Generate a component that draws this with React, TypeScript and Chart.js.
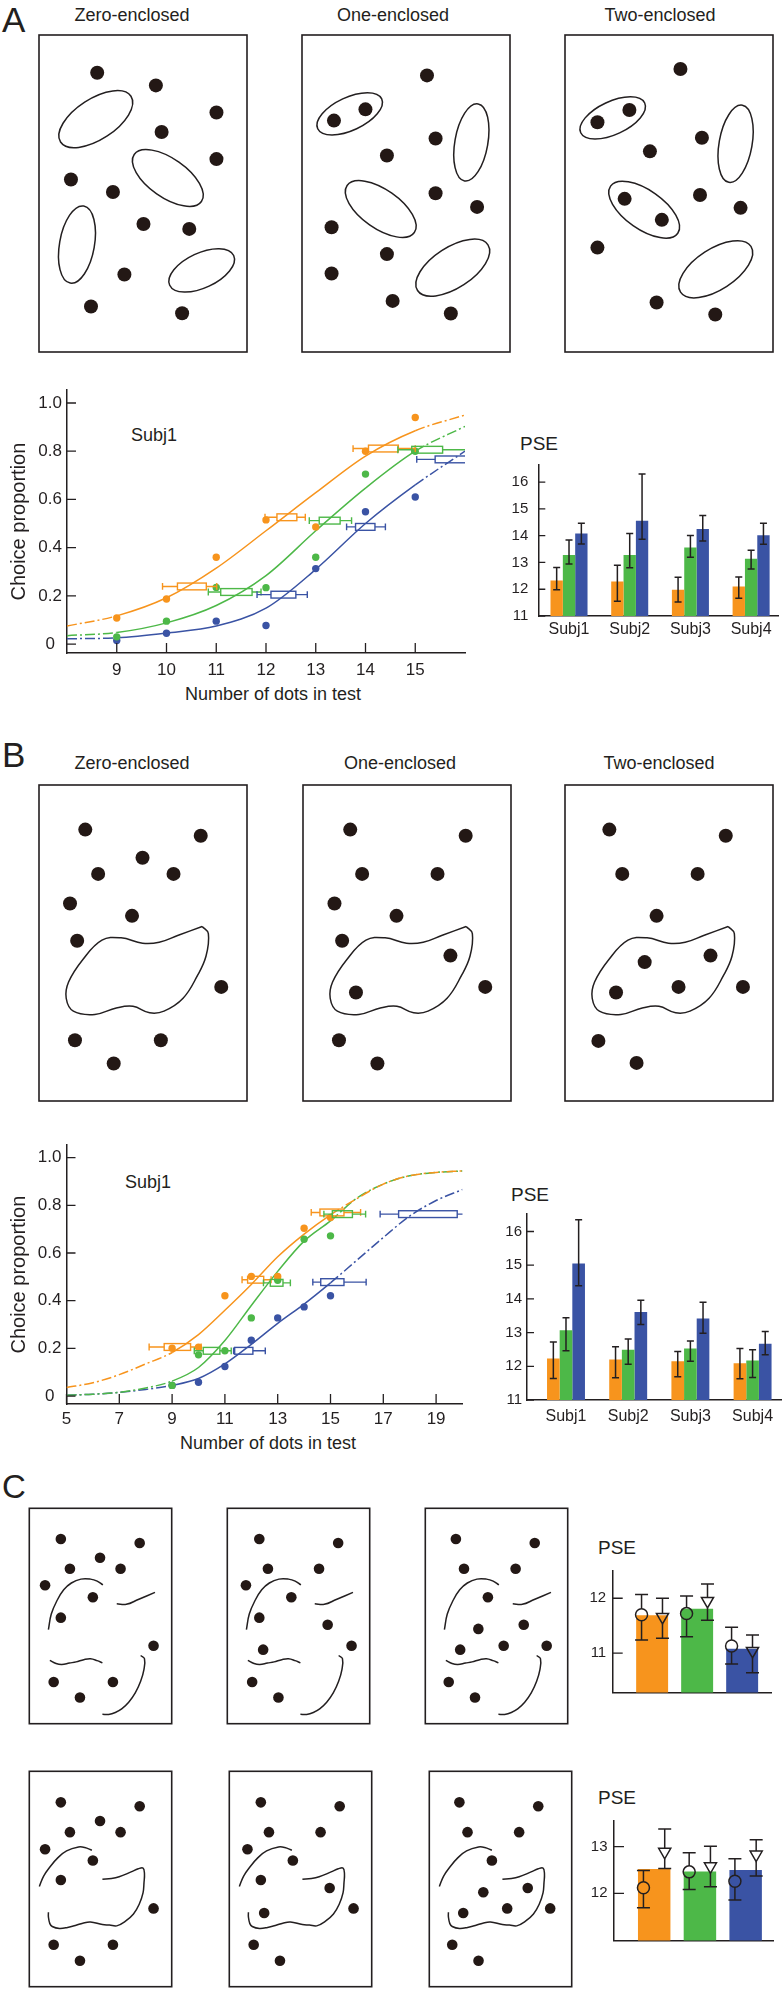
import React, { useEffect, useRef } from 'react';
import { Chart, registerables } from 'chart.js';

Chart.register(...registerables);

const FONT = "'Liberation Sans', Arial, Helvetica, sans-serif";
Chart.defaults.font.family = FONT;
Chart.defaults.color = '#231F20';

const INK = '#231F20';
const DOT = '#231815';
const ORANGE = '#F7941D';
const GREEN = '#4DB848';
const BLUE = '#3A53A4';
const DASHDOT = [10, 3, 2, 3];

// ---------------- Panel A : psychometric data ----------------
const A_X_TICKS = [9, 10, 11, 12, 13, 14, 15];
const PROP_TICKS = [0, 0.2, 0.4, 0.6, 0.8, 1.0];
const A_LEVELS = [9, 10, 11, 12, 13, 14, 15];
const A_ZERO_PTS = [0.108, 0.187, 0.36, 0.515, 0.486, 0.8, 0.94];
const A_ONE_PTS = [0.03, 0.095, 0.235, 0.234, 0.36, 0.705, 0.8];
const A_TWO_PTS = [0.015, 0.045, 0.095, 0.077, 0.313, 0.549, 0.61];
const A_CURVE_X = [8, 9, 10, 11, 12, 13, 14, 15, 16];
const A_ZERO_FIT = [0.075, 0.117, 0.192, 0.315, 0.47, 0.628, 0.78, 0.885, 0.95];
const A_ONE_FIT = [0.035, 0.048, 0.088, 0.16, 0.284, 0.47, 0.647, 0.8, 0.903];
const A_TWO_FIT = [0.022, 0.026, 0.046, 0.075, 0.149, 0.31, 0.5, 0.66, 0.8];
// [y, whiskerLow, whiskerHigh, boxLow, boxHigh]
const A_ZERO_BOX = [[0.239, 9.92, 11.01, 10.22, 10.8], [0.526, 11.98, 12.79, 12.22, 12.62], [0.811, 13.75, 15.0, 14.06, 14.66]];
const A_ONE_BOX = [[0.216, 10.84, 11.9, 11.09, 11.72], [0.512, 12.87, 13.72, 13.07, 13.49], [0.806, 14.65, 16.1, 14.93, 15.55]];
const A_TWO_BOX = [[0.205, 11.82, 12.83, 12.1, 12.6], [0.486, 13.62, 14.4, 13.8, 14.19], [0.766, 15.03, 16.8, 15.4, 16.4]];

// ---------------- Panel B : psychometric data ----------------
const B_X_TICKS = [5, 7, 9, 11, 13, 15, 17, 19];
const B_LEVELS = [9, 10, 11, 12, 13, 14, 15];
const B_ZERO_PTS = [0.201, 0.205, 0.421, 0.502, 0.502, 0.704, 0.749];
const B_ONE_PTS = [0.045, 0.173, 0.19, 0.328, 0.486, 0.658, 0.672];
const B_TWO_PTS = [0.045, 0.058, 0.124, 0.234, 0.328, 0.374, 0.421];
const B_CURVE_X = [5, 6, 7, 8, 9, 10, 11, 12, 13, 14, 15, 16, 17, 18, 19, 20];
const B_ZERO_FIT = [0.036, 0.056, 0.09, 0.135, 0.183, 0.258, 0.36, 0.468, 0.584, 0.679, 0.76, 0.828, 0.889, 0.924, 0.938, 0.944];
const B_ONE_FIT = [0.004, 0.008, 0.016, 0.034, 0.063, 0.12, 0.233, 0.38, 0.523, 0.65, 0.735, 0.83, 0.889, 0.924, 0.938, 0.944];
const B_TWO_FIT = [0.004, 0.008, 0.016, 0.028, 0.045, 0.074, 0.135, 0.217, 0.305, 0.386, 0.475, 0.57, 0.665, 0.755, 0.82, 0.866];
const B_ZERO_BOX = [[0.206, 8.13, 10.1, 8.7, 9.7], [0.488, 11.65, 12.75, 11.86, 12.47], [0.77, 14.27, 16.14, 14.6, 15.51]];
const B_ONE_BOX = [[0.19, 9.84, 11.24, 10.18, 10.81], [0.475, 12.46, 13.48, 12.72, 13.2], [0.763, 14.75, 16.33, 15.07, 15.83]];
const B_TWO_BOX = [[0.19, 11.33, 12.53, 11.37, 12.06], [0.478, 14.33, 16.35, 14.63, 15.51], [0.763, 16.88, 20.05, 17.58, 19.8]];

// ---------------- PSE bars ----------------
const SUBJECTS = ['Subj1', 'Subj2', 'Subj3', 'Subj4'];
const SUBJ_POS = [1, 2, 3, 4];
const PSE_TICKS = [11, 12, 13, 14, 15, 16];

const A_PSE_ZERO = [12.33, 12.29, 11.98, 12.1];
const A_PSE_ZERO_LO = [11.98, 11.55, 11.52, 11.66];
const A_PSE_ZERO_HI = [12.81, 12.9, 12.45, 12.46];
const A_PSE_ONE = [13.28, 13.28, 13.56, 13.14];
const A_PSE_ONE_LO = [12.94, 12.8, 13.19, 12.76];
const A_PSE_ONE_HI = [13.84, 14.08, 14.01, 13.46];
const A_PSE_TWO = [14.08, 14.56, 14.25, 14.02];
const A_PSE_TWO_LO = [13.69, 13.87, 13.8, 13.68];
const A_PSE_TWO_HI = [14.46, 16.3, 14.75, 14.46];

const B_PSE_ZERO = [12.23, 12.2, 12.15, 12.09];
const B_PSE_ZERO_LO = [11.64, 11.66, 11.69, 11.63];
const B_PSE_ZERO_HI = [12.72, 12.58, 12.44, 12.53];
const B_PSE_ONE = [13.07, 12.49, 12.53, 12.17];
const B_PSE_ONE_LO = [12.46, 12.06, 12.15, 11.67];
const B_PSE_ONE_HI = [13.44, 12.81, 12.75, 12.49];
const B_PSE_TWO = [15.05, 13.61, 13.42, 12.67];
const B_PSE_TWO_LO = [14.39, 13.24, 12.98, 12.34];
const B_PSE_TWO_HI = [16.35, 13.96, 13.9, 13.03];

const C_POS = [1, 2, 3];
const C_COLORS = [ORANGE, GREEN, BLUE];
const C1_TICKS = [11, 12];
const C1_BARS = [11.69, 11.81, 11.08];
const C1_CIRCLE = [11.7, 11.72, 11.13];
const C1_CIRCLE_LO = [11.24, 11.3, 10.8];
const C1_CIRCLE_HI = [12.07, 12.04, 11.47];
const C1_TRI = [11.66, 11.95, 11.04];
const C1_TRI_LO = [11.27, 11.6, 10.64];
const C1_TRI_HI = [12.0, 12.26, 11.33];
const C2_TICKS = [12, 13];
const C2_BARS = [12.52, 12.47, 12.5];
const C2_CIRCLE = [12.12, 12.46, 12.26];
const C2_CIRCLE_LO = [11.69, 12.08, 11.86];
const C2_CIRCLE_HI = [12.49, 12.87, 12.74];
const C2_TRI = [12.89, 12.58, 12.83];
const C2_TRI_LO = [12.53, 12.14, 12.37];
const C2_TRI_HI = [13.38, 13.01, 13.15];

// ---------------- Stimuli (dot / contour positions inside each frame) ----------------
const A_ZERO_DOTS = [[61, 39], [122.5, 52], [186, 80], [128.5, 100], [186, 128], [33.5, 149], [77.5, 162], [109.5, 195], [157.5, 200], [89.5, 247], [54.5, 280], [150, 287]];
const A_ONE_DOTS = [[131, 41.7], [66.5, 76.7], [33.5, 88.3], [140, 106.7], [89, 124.3], [140, 163.3], [183.5, 177.3], [31, 198.3], [89, 226], [31, 246], [95, 274.3], [156, 287.3]];
const A_TWO_DOTS = [[121, 35], [67.5, 77.3], [34, 90], [143.5, 106], [89, 120], [62.5, 169], [141.5, 165], [184, 178.3], [101.5, 190.7], [34, 219.3], [96, 276], [157.5, 288.3]];
// [cx, cy, semi-major, semi-minor, angle]
const A_ZERO_ELL = [[59.5, 86.8, 44, 21, -33], [135, 147.5, 43, 20, 35], [39.8, 216.2, 41, 18, -80], [170.5, 242.8, 37, 18, -25]];
const A_ONE_ELL = [[50, 81.3, 37, 17, -25], [177.5, 110.8, 41, 17, -80], [82.5, 179.5, 43, 20, 35], [158, 240, 44, 21, -33]];
const A_TWO_ELL = [[50, 85.5, 37, 17, -25], [178.8, 112.2, 41, 17, -80], [83, 180.2, 43, 20, 35], [158, 241.7, 44, 21, -33]];

const B_ZERO_DOTS = [[48.5, 46], [169.5, 52.3], [108.5, 75], [62, 91.7], [141, 91.7], [32.5, 122.3], [97.5, 135], [40, 160.7], [191, 208.3], [37.7, 263.3], [78.3, 287.3], [127.7, 263.3]];
const B_ONE_DOTS = [[49.5, 46], [170.5, 52.3], [62, 91.7], [141, 91.7], [33, 122.3], [98, 135], [41, 160.7], [154.5, 176], [55.5, 214], [191, 208.3], [37.7, 263.3], [78, 287.3]];
const B_TWO_DOTS = [[46.5, 46], [168.5, 52.3], [60, 91.7], [139, 91.7], [96, 135], [152.5, 176], [83.5, 182.7], [53.5, 214], [119, 208.3], [186.5, 208.3], [35, 264], [75, 286.7]];
const B_BLOB = [[171, 146], [146, 155], [126, 162.3], [108.5, 163.3], [86, 157.7], [66, 160], [46, 180], [31, 203.3], [28.5, 220], [36, 233.3], [58.5, 236.7], [81, 230], [98.5, 228.3], [116, 235], [131, 233.3], [151, 220], [166, 196.7], [175, 176.7], [177.5, 153.3], [171, 146]];

const C1_ZERO_DOTS = [[33, 31.7], [115.5, 35.7], [74, 51], [42.5, 62.3], [95.5, 62.3], [16.5, 79.3], [66.5, 91.7], [33, 112.7], [130, 141.7], [25.5, 179], [87.5, 179], [53, 195]];
const C1_ONE_DOTS = [[33.5, 31.7], [116, 35.7], [42.5, 62.3], [96, 62.3], [19.5, 79.3], [67, 91.7], [33.5, 112.7], [105, 120], [37.5, 145.7], [130, 141.7], [26, 179], [53.5, 195]];
const C1_TWO_DOTS = [[32, 31.7], [114.5, 35.7], [40.5, 62.3], [94.5, 62.3], [65.5, 91.7], [55.5, 124.3], [103, 120], [36.5, 145.7], [82, 141.7], [127, 141.7], [24.5, 179], [52, 195]];
const C1_ARC = [[20, 125], [23, 109], [29, 95], [36, 84], [44, 77], [54, 73], [64, 73], [71, 75], [77, 79]];
const C1_WAVE_R = [[91.5, 98.3], [101.5, 99], [114, 94], [131.5, 86.7]];
const C1_WAVE_L = [[21.5, 156.7], [28, 160], [34, 161], [42, 159.5], [49, 158.3], [57, 156], [64, 155], [71, 157], [76.5, 159.3]];
const C1_HOOK = [[116.5, 151.7], [120.5, 155], [120, 166], [116.5, 178.3], [111, 190], [104, 200], [97, 206.5], [90, 210.5], [83, 212.5], [76.5, 212.3]];

const C2_ZERO_DOTS = [[33, 32], [115.5, 36], [74, 51.3], [42.5, 62.7], [95.5, 62.7], [16.5, 80.3], [66.5, 92], [33, 112], [130, 141.3], [25.5, 178.7], [87.5, 178.7], [53, 195.3]];
const C2_ONE_DOTS = [[33, 32], [115.5, 36], [41.5, 62.7], [95.5, 62.7], [19, 80.3], [66.5, 92], [33, 112], [105, 120.3], [36.5, 146], [130, 141.3], [25.5, 178.7], [53, 195.3]];
const C2_TWO_DOTS = [[31.5, 32], [114, 36], [40, 62.7], [94, 62.7], [65.5, 92], [56.5, 124.7], [103, 120.3], [35.5, 146], [81.5, 141.3], [126.5, 141.3], [24, 178.7], [51.5, 195.3]];
const C2_ARC = [[10.5, 118.7], [15, 108], [21.5, 98.7], [30, 89], [39, 82], [51.5, 78], [58, 78.5], [65.5, 81.3]];
const C2_HOOK = [[76.5, 111.3], [86, 110.5], [94, 108.7], [106.5, 103.7], [114, 100.5], [119, 99.7], [120.5, 105.3], [120, 115], [119, 125.3], [115, 137], [109, 147], [100, 155], [91.5, 159.3], [84, 158.5], [76.5, 158], [64, 155.3], [56, 156.5], [49, 158.7], [40, 161], [31.5, 162], [24, 160], [21.5, 157], [20, 150], [20, 145.3]];

// ---------------- helpers ----------------
const baseOptions = (padding: any) => ({
  responsive: false,
  maintainAspectRatio: false,
  animation: false,
  devicePixelRatio: 1,
  events: [],
  layout: { padding },
  plugins: { legend: { display: false }, tooltip: { enabled: false }, title: { display: false } },
});

const toXY = (pts: number[][]) => pts.map(([x, y]) => ({ x, y }));

function stimulusPlugin(ellipses: number[][]) {
  return {
    id: 'stimulus',
    beforeDatasetsDraw(chart: any) {
      const { ctx, chartArea: ca } = chart;
      const xs = chart.scales.x;
      const ys = chart.scales.y;
      ctx.save();
      ctx.strokeStyle = INK;
      ctx.lineWidth = 1.6;
      ctx.strokeRect(ca.left, ca.top, ca.right - ca.left, ca.bottom - ca.top);
      ctx.lineWidth = 1.5;
      for (const [cx, cy, a, b, ang] of ellipses) {
        const px = xs.getPixelForValue(cx);
        const py = ys.getPixelForValue(cy);
        const ra = Math.abs(xs.getPixelForValue(cx + a) - px);
        const rb = Math.abs(ys.getPixelForValue(cy + b) - py);
        ctx.beginPath();
        ctx.ellipse(px, py, ra, rb, (ang * Math.PI) / 180, 0, Math.PI * 2);
        ctx.stroke();
      }
      ctx.restore();
    },
  };
}

function inTicks(xLen: number, yLen: number) {
  return {
    id: 'inTicks',
    afterDraw(chart: any) {
      const { ctx } = chart;
      const xs = chart.scales.x;
      const ys = chart.scales.y;
      ctx.save();
      ctx.strokeStyle = INK;
      ctx.lineWidth = 1.3;
      ctx.beginPath();
      if (xLen) xs.ticks.forEach((t: any) => {
        const px = xs.getPixelForValue(t.value);
        ctx.moveTo(px, xs.top);
        ctx.lineTo(px, xs.top - xLen);
      });
      if (yLen) ys.ticks.forEach((t: any) => {
        const py = ys.getPixelForValue(t.value);
        ctx.moveTo(ys.right, py);
        ctx.lineTo(ys.right + yLen, py);
      });
      ctx.stroke();
      ctx.restore();
    },
  };
}

function boxMarks(sets: { color: string; rows: number[][] }[]) {
  return {
    id: 'boxMarks',
    afterDatasetsDraw(chart: any) {
      const { ctx, chartArea: ca } = chart;
      const xs = chart.scales.x;
      const ys = chart.scales.y;
      ctx.save();
      ctx.beginPath();
      ctx.rect(ca.left, ca.top - 30, ca.right - ca.left, ca.bottom - ca.top + 60);
      ctx.clip();
      ctx.lineWidth = 1.4;
      const h = 3.4;
      for (const s of sets) {
        ctx.strokeStyle = s.color;
        for (const [v, wl, wh, bl, bh] of s.rows) {
          const py = ys.getPixelForValue(v);
          const xwl = xs.getPixelForValue(wl);
          const xwh = xs.getPixelForValue(wh);
          const xbl = xs.getPixelForValue(bl);
          const xbh = xs.getPixelForValue(bh);
          ctx.beginPath();
          ctx.moveTo(xwl, py); ctx.lineTo(xbl, py);
          ctx.moveTo(xbh, py); ctx.lineTo(xwh, py);
          ctx.moveTo(xwl, py - h); ctx.lineTo(xwl, py + h);
          ctx.moveTo(xwh, py - h); ctx.lineTo(xwh, py + h);
          ctx.stroke();
          ctx.strokeRect(xbl, py - h, xbh - xbl, 2 * h);
        }
      }
      ctx.restore();
    },
  };
}

function errorBars(specs: { ds: number; lo: number[]; hi: number[]; gapUp?: number; gapDown?: number }[], cap: number) {
  return {
    id: 'errorBars',
    afterDatasetsDraw(chart: any) {
      const { ctx } = chart;
      const ys = chart.scales.y;
      ctx.save();
      ctx.strokeStyle = INK;
      ctx.lineWidth = 1.5;
      for (const s of specs) {
        const meta = chart.getDatasetMeta(s.ds);
        meta.data.forEach((el: any, i: number) => {
          const x = el.x;
          const yHi = ys.getPixelForValue(s.hi[i]);
          const yLo = ys.getPixelForValue(s.lo[i]);
          ctx.beginPath();
          ctx.moveTo(x, yHi); ctx.lineTo(x, el.y - (s.gapUp || 0));
          ctx.moveTo(x, el.y + (s.gapDown || 0)); ctx.lineTo(x, yLo);
          ctx.moveTo(x - cap, yHi); ctx.lineTo(x + cap, yHi);
          ctx.moveTo(x - cap, yLo); ctx.lineTo(x + cap, yLo);
          ctx.stroke();
        });
      }
      ctx.restore();
    },
  };
}

function stimulus(key: string, left: number, top: number, w: number, h: number, dots: number[][], ellipses: number[][], curves: number[][][], r: number) {
  return {
    key, left: left - 2, top: top - 2, width: w + 4, height: h + 4,
    make: () => ({
      type: 'scatter',
      data: {
        datasets: [
          ...curves.map((c) => ({ data: toXY(c), showLine: true, pointRadius: 0, borderColor: INK, borderWidth: 1.5, tension: 0.4, fill: false, clip: false })),
          { data: toXY(dots), showLine: false, pointRadius: r, backgroundColor: DOT, borderWidth: 0, clip: false },
        ],
      },
      options: {
        ...baseOptions(2),
        scales: {
          x: { type: 'linear', min: 0, max: w, display: false },
          y: { type: 'linear', min: 0, max: h, reverse: true, display: false },
        },
      },
      plugins: [stimulusPlugin(ellipses)],
    }),
  };
}

function psych(key: string, g: any, d: any) {
  return {
    key, left: g.left, top: g.top, width: g.width, height: g.height,
    make: () => {
      const datasets: any[] = [];
      d.series.forEach((s: any) => {
        datasets.push({
          data: d.curveX.map((x: number, i: number) => ({ x, y: s.fit[i] })),
          showLine: true, pointRadius: 0, borderColor: s.color, borderWidth: 1.5, fill: false, order: 2,
          cubicInterpolationMode: 'monotone',
          segment: {
            borderDash: (ctx: any) => (ctx.p1.parsed.x <= d.solid[0] + 1e-9 || ctx.p0.parsed.x >= d.solid[1] - 1e-9 ? DASHDOT : undefined),
          },
        });
      });
      d.series.forEach((s: any) => {
        datasets.push({ data: d.levels.map((x: number, i: number) => ({ x, y: s.pts[i] })), showLine: false, pointRadius: 3.7, backgroundColor: s.color, borderWidth: 0, order: 1 });
      });
      return {
        type: 'scatter',
        data: { datasets },
        options: {
          ...baseOptions(g.padding),
          scales: {
            x: {
              type: 'linear', min: d.xMin, max: d.xMax,
              grid: { display: false, drawTicks: false },
              border: { display: true, color: INK, width: 1.5 },
              afterBuildTicks: (s: any) => { s.ticks = d.xTicks.map((value: number) => ({ value })); },
              afterFit: (s: any) => { s.height = g.xHeight; },
              ticks: { padding: g.xLabelPad, font: { size: 17 }, color: INK, autoSkip: false, maxRotation: 0, callback: (v: any) => String(v) },
            },
            y: {
              type: 'linear', min: d.yMin, max: d.yMax,
              grid: { display: false, drawTicks: false },
              border: { display: true, color: INK, width: 1.5 },
              afterBuildTicks: (s: any) => { s.ticks = PROP_TICKS.map((value) => ({ value })); },
              afterFit: (s: any) => { s.width = g.yWidth; },
              ticks: { padding: 5, crossAlign: 'center', font: { size: 17 }, color: INK, callback: (v: any) => (v === 0 ? '0' : Number(v).toFixed(1)) },
              title: { display: true, text: 'Choice proportion', font: { size: 20 }, color: INK, padding: { top: 7, bottom: 0 } },
            },
          },
        },
        plugins: [inTicks(10, 9), boxMarks(d.series.map((s: any) => ({ color: s.color, rows: s.boxes })))],
      };
    },
  };
}

function pse(key: string, g: any, d: any) {
  return {
    key, left: g.left, top: g.top, width: g.width, height: g.height,
    make: () => ({
      type: 'bar',
      data: {
        datasets: d.series.map((s: any) => ({
          data: SUBJ_POS.map((x, i) => ({ x, y: s.vals[i] })),
          backgroundColor: s.color, borderWidth: 0, barPercentage: 1, categoryPercentage: g.catPct,
        })),
      },
      options: {
        ...baseOptions(g.padding),
        scales: {
          x: {
            type: 'linear', min: g.xMin, max: g.xMax, offset: false,
            grid: { display: false, drawTicks: false },
            border: { display: true, color: INK, width: 1.5 },
            afterBuildTicks: (s: any) => { s.ticks = SUBJ_POS.map((value) => ({ value })); },
            afterFit: (s: any) => { s.height = g.xHeight; },
            ticks: { padding: g.xLabelPad, font: { size: 16 }, color: INK, autoSkip: false, maxRotation: 0, callback: (v: any) => SUBJECTS[SUBJ_POS.indexOf(v)] ?? '' },
          },
          y: {
            type: 'linear', min: g.yMin, max: g.yMax, beginAtZero: false,
            grid: { display: false, drawTicks: false },
            border: { display: true, color: INK, width: 1.5 },
            afterBuildTicks: (s: any) => { s.ticks = PSE_TICKS.map((value) => ({ value })); },
            afterFit: (s: any) => { s.width = g.yWidth; },
            ticks: { padding: g.yLabelPad, font: { size: 15 }, color: INK },
          },
        },
      },
      plugins: [inTicks(0, 7), errorBars(d.series.map((s: any, k: number) => ({ ds: k, lo: s.lo, hi: s.hi })), 3.5)],
    }),
  };
}

const CIRCLE_SHIFT = -0.235;
const TRI_SHIFT = 0.23;

function pseC(key: string, g: any, d: any) {
  return {
    key, left: g.left, top: g.top, width: g.width, height: g.height,
    make: () => ({
      type: 'bar',
      data: {
        datasets: [
          { type: 'bar', order: 3, data: C_POS.map((x, i) => ({ x, y: d.bars[i] })), backgroundColor: C_COLORS, borderWidth: 0, barPercentage: 0.71, categoryPercentage: 1 },
          { type: 'scatter', order: 1, data: C_POS.map((x, i) => ({ x: x + CIRCLE_SHIFT, y: d.circle[i] })), pointStyle: 'circle', pointRadius: 6, backgroundColor: 'rgba(255,255,255,0)', borderColor: INK, borderWidth: 1.5 },
          { type: 'scatter', order: 1, data: C_POS.map((x, i) => ({ x: x + TRI_SHIFT, y: d.tri[i] })), pointStyle: 'triangle', rotation: 180, pointRadius: 7, backgroundColor: 'rgba(255,255,255,0)', borderColor: INK, borderWidth: 1.5 },
        ],
      },
      options: {
        ...baseOptions(g.padding),
        scales: {
          x: {
            type: 'linear', min: g.xMin, max: g.xMax, offset: false,
            grid: { display: false, drawTicks: false },
            border: { display: true, color: INK, width: 1.5 },
            afterBuildTicks: (s: any) => { s.ticks = C_POS.map((value) => ({ value })); },
            afterFit: (s: any) => { s.height = 4; },
            ticks: { display: false },
          },
          y: {
            type: 'linear', min: g.yMin, max: g.yMax, beginAtZero: false,
            grid: { display: false, drawTicks: false },
            border: { display: true, color: INK, width: 1.5 },
            afterBuildTicks: (s: any) => { s.ticks = d.ticks.map((value: number) => ({ value })); },
            afterFit: (s: any) => { s.width = g.yWidth; },
            ticks: { padding: 6.5, font: { size: 15 }, color: INK },
          },
        },
      },
      plugins: [
        inTicks(0, 10),
        errorBars([
          { ds: 1, lo: d.circleLo, hi: d.circleHi, gapUp: 6, gapDown: 6 },
          { ds: 2, lo: d.triLo, hi: d.triHi, gapUp: 3.5, gapDown: 7 },
        ], 6.5),
      ],
    }),
  };
}

// ---------------- layout ----------------
const CHARTS = [
  stimulus('a1', 34, 30, 218, 327, A_ZERO_DOTS, A_ZERO_ELL, [], 7),
  stimulus('a2', 297, 30, 218, 327, A_ONE_DOTS, A_ONE_ELL, [], 7),
  stimulus('a3', 560, 30, 218, 327, A_TWO_DOTS, A_TWO_ELL, [], 7),
  psych('apsy', { left: 0, top: 375, width: 477, height: 330, padding: { top: 8, right: 12, left: 0, bottom: 0 }, yWidth: 67, xHeight: 52, xLabelPad: 7 }, {
    xMin: 8, xMax: 16, yMin: -0.037, yMax: 1.053, xTicks: A_X_TICKS, curveX: A_CURVE_X, levels: A_LEVELS, solid: [9, 15],
    series: [
      { color: ORANGE, fit: A_ZERO_FIT, pts: A_ZERO_PTS, boxes: A_ZERO_BOX },
      { color: GREEN, fit: A_ONE_FIT, pts: A_ONE_PTS, boxes: A_ONE_BOX },
      { color: BLUE, fit: A_TWO_FIT, pts: A_TWO_PTS, boxes: A_TWO_BOX },
    ],
  }),
  pse('apse', { left: 500, top: 446, width: 282, height: 205, padding: { top: 7, right: 4, left: 0, bottom: 0 }, yWidth: 38.3, xHeight: 35, xMin: 0.494, xMax: 4.443, yMin: 11, yMax: 16.64, catPct: 0.61, yLabelPad: 10, xLabelPad: 4 }, {
    series: [
      { color: ORANGE, vals: A_PSE_ZERO, lo: A_PSE_ZERO_LO, hi: A_PSE_ZERO_HI },
      { color: GREEN, vals: A_PSE_ONE, lo: A_PSE_ONE_LO, hi: A_PSE_ONE_HI },
      { color: BLUE, vals: A_PSE_TWO, lo: A_PSE_TWO_LO, hi: A_PSE_TWO_HI },
    ],
  }),
  stimulus('b1', 34, 780, 218, 326, B_ZERO_DOTS, [], [B_BLOB], 7),
  stimulus('b2', 298, 780, 218, 326, B_ONE_DOTS, [], [B_BLOB], 7),
  stimulus('b3', 560, 780, 218, 326, B_TWO_DOTS, [], [B_BLOB], 7),
  psych('bpsy', { left: 0, top: 1130, width: 475, height: 326, padding: { top: 8, right: 12.5, left: 0, bottom: 0 }, yWidth: 66.5, xHeight: 52, xLabelPad: 5 }, {
    xMin: 5, xMax: 20, yMin: -0.033, yMax: 1.052, xTicks: B_X_TICKS, curveX: B_CURVE_X, levels: B_LEVELS, solid: [9, 15],
    series: [
      { color: ORANGE, fit: B_ZERO_FIT, pts: B_ZERO_PTS, boxes: B_ZERO_BOX },
      { color: GREEN, fit: B_ONE_FIT, pts: B_ONE_PTS, boxes: B_ONE_BOX },
      { color: BLUE, fit: B_TWO_FIT, pts: B_TWO_PTS, boxes: B_TWO_BOX },
    ],
  }),
  pse('bpse', { left: 490, top: 1200, width: 292, height: 235, padding: { top: 6.7, right: 0, left: 0, bottom: 0 }, yWidth: 37, xHeight: 35, xMin: 0.373, xMax: 4.473, yMin: 11, yMax: 16.52, catPct: 0.61, yLabelPad: 5, xLabelPad: 7 }, {
    series: [
      { color: ORANGE, vals: B_PSE_ZERO, lo: B_PSE_ZERO_LO, hi: B_PSE_ZERO_HI },
      { color: GREEN, vals: B_PSE_ONE, lo: B_PSE_ONE_LO, hi: B_PSE_ONE_HI },
      { color: BLUE, vals: B_PSE_TWO, lo: B_PSE_TWO_LO, hi: B_PSE_TWO_HI },
    ],
  }),
  stimulus('c1', 26, 1505, 149, 222, C1_ZERO_DOTS, [], [C1_ARC, C1_WAVE_R, C1_WAVE_L, C1_HOOK], 5.3),
  stimulus('c2', 224, 1505, 149, 222, C1_ONE_DOTS, [], [C1_ARC, C1_WAVE_R, C1_WAVE_L, C1_HOOK], 5.3),
  stimulus('c3', 422, 1505, 149, 222, C1_TWO_DOTS, [], [C1_ARC, C1_WAVE_R, C1_WAVE_L, C1_HOOK], 5.3),
  stimulus('c4', 26, 1768, 149, 222, C2_ZERO_DOTS, [], [C2_ARC, C2_HOOK], 5.3),
  stimulus('c5', 226, 1768, 149, 222, C2_ONE_DOTS, [], [C2_ARC, C2_HOOK], 5.3),
  stimulus('c6', 426, 1768, 149, 222, C2_TWO_DOTS, [], [C2_ARC, C2_HOOK], 5.3),
  pseC('cpse1', { left: 580, top: 1555, width: 200, height: 153, padding: { top: 5.7, right: 5, left: 0, bottom: 0 }, yWidth: 32.7, xMin: 0.124, xMax: 3.652, yMin: 10.281, yMax: 12.506 }, {
    ticks: C1_TICKS, bars: C1_BARS, circle: C1_CIRCLE, circleLo: C1_CIRCLE_LO, circleHi: C1_CIRCLE_HI, tri: C1_TRI, triLo: C1_TRI_LO, triHi: C1_TRI_HI,
  }),
  pseC('cpse2', { left: 580, top: 1805, width: 202, height: 151, padding: { top: 6.7, right: 5.3, left: 0, bottom: 0 }, yWidth: 34, xMin: 0.121, xMax: 3.609, yMin: 10.99, yMax: 13.56 }, {
    ticks: C2_TICKS, bars: C2_BARS, circle: C2_CIRCLE, circleLo: C2_CIRCLE_LO, circleHi: C2_CIRCLE_HI, tri: C2_TRI, triLo: C2_TRI_LO, triHi: C2_TRI_HI,
  }),
];

function ChartCanvas({ left, top, width, height, make }: any) {
  const ref = useRef<HTMLCanvasElement | null>(null);
  useEffect(() => {
    if (!ref.current) return undefined;
    const chart = new Chart(ref.current, make());
    return () => chart.destroy();
  }, []);
  return <canvas ref={ref} width={width} height={height} style={{ position: 'absolute', left, top, width, height, display: 'block' }} />;
}

function Txt({ x, y, size, children, center }: any) {
  return (
    <div
      style={{
        position: 'absolute', left: x, top: y - size / 2, fontSize: size, lineHeight: `${size}px`,
        whiteSpace: 'nowrap', color: INK, fontFamily: FONT,
        transform: center ? 'translateX(-50%)' : undefined,
      }}
    >
      {children}
    </div>
  );
}

export default function App() {
  return (
    <div style={{ position: 'absolute', left: 0, top: 0, width: 782, height: 1993, background: '#ffffff', overflow: 'hidden', fontFamily: FONT }}>
      <Txt x={2} y={19.5} size={35}>A</Txt>
      <Txt x={132} y={15} size={18} center>Zero-enclosed</Txt>
      <Txt x={393} y={15} size={18} center>One-enclosed</Txt>
      <Txt x={660} y={15} size={18} center>Two-enclosed</Txt>
      <Txt x={131} y={435} size={18}>Subj1</Txt>
      <Txt x={520} y={443} size={19}>PSE</Txt>
      <Txt x={273} y={694} size={18} center>Number of dots in test</Txt>

      <Txt x={2} y={754} size={35}>B</Txt>
      <Txt x={132} y={763} size={18} center>Zero-enclosed</Txt>
      <Txt x={400} y={763} size={18} center>One-enclosed</Txt>
      <Txt x={659} y={763} size={18} center>Two-enclosed</Txt>
      <Txt x={125} y={1182} size={18}>Subj1</Txt>
      <Txt x={511} y={1194} size={19}>PSE</Txt>
      <Txt x={268} y={1443} size={18} center>Number of dots in test</Txt>

      <Txt x={2} y={1486} size={33}>C</Txt>
      <Txt x={598} y={1547} size={19}>PSE</Txt>
      <Txt x={598} y={1797} size={19}>PSE</Txt>

      {CHARTS.map((c) => (
        <ChartCanvas key={c.key} left={c.left} top={c.top} width={c.width} height={c.height} make={c.make} />
      ))}
    </div>
  );
}
